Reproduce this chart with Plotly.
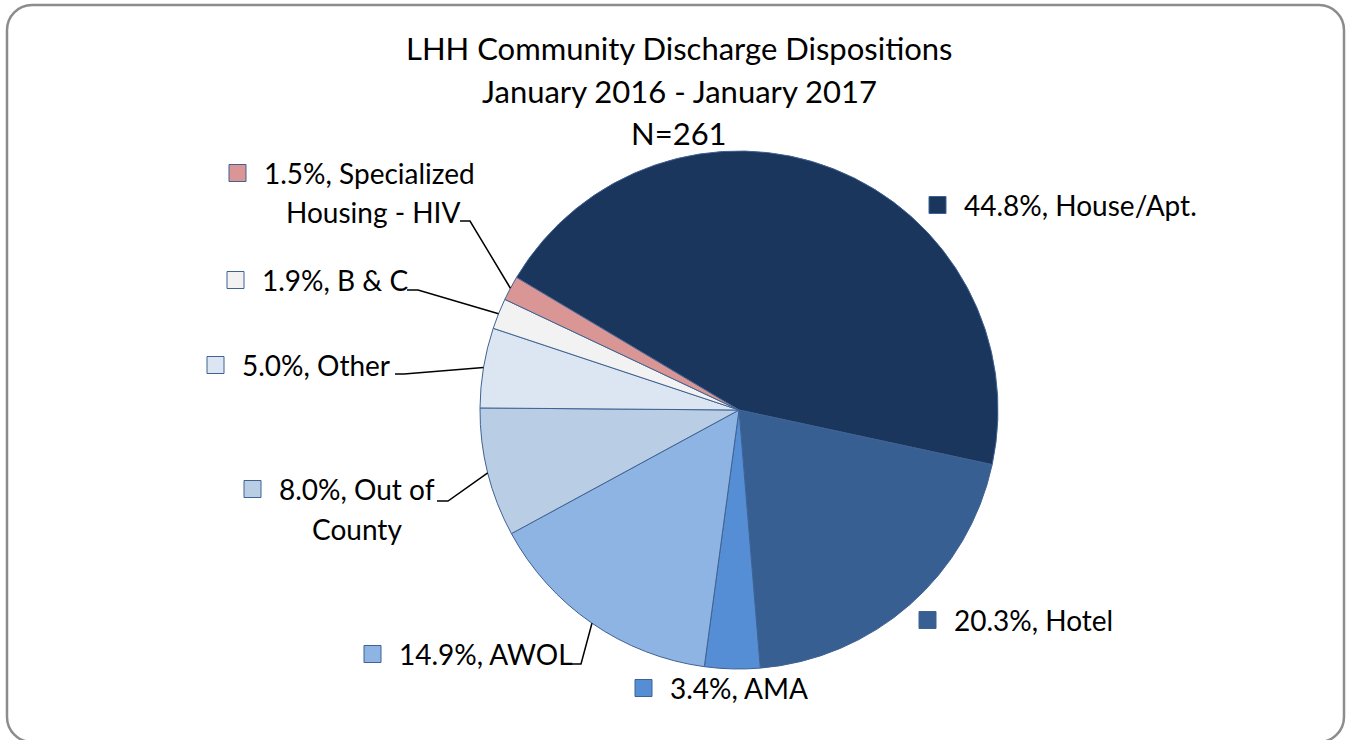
import math
import plotly.graph_objects as go

# ---------------- data ----------------
categories = ["House/Apt.", "Hotel", "AMA", "AWOL", "Out of County",
              "Other", "B & C", "Specialized Housing - HIV"]
counts = [117, 53, 9, 39, 21, 13, 5, 4]
slice_colors = ["#1b365d", "#375f92", "#558ed5", "#8eb4e3",
                "#b9cde5", "#dce6f2", "#f2f2f2", "#d99694"]
title_lines = ["LHH Community Discharge Dispositions",
               "January 2016 - January 2017",
               "N=261"]

# ---------------- layout / styling ----------------
W, H = 1351, 740
CX, CY, R = 739, 410, 259          # pie centre and radius (pixels)
ROTATION = -59.2                    # start angle of first slice (deg, clockwise from 12)
FONT = "Lato"
FS_TITLE = 31
FS = 28
EDGE = "#3f6293"

# label placement: text left x, centre y of first line, optional line break,
# centre x of second line, leader elbow/end points
label_pos = {
    "House/Apt.": dict(x=962, y=205),
    "Hotel": dict(x=952, y=620),
    "AMA": dict(x=668, y=688),
    "AWOL": dict(x=397, y=654, leader=[(581, 664), (570, 664)]),
    "Out of County": dict(x=277, y=489, brk="Out of", x2=357, y2=529,
                          leader=[(448, 501), (437, 501)]),
    "Other": dict(x=240, y=365, leader=[(404, 374), (395, 374)]),
    "B & C": dict(x=260, y=280, leader=[(418, 290), (407, 290)]),
    "Specialized Housing - HIV": dict(x=262, y=173, brk="Specialized", x2=373, y2=212,
                                      leader=[(470, 221), (460, 221)]),
}


def px(x):
    return x / W


def py(y):
    return 1 - y / H


fig = go.Figure()
fig.add_trace(go.Pie(
    values=counts, labels=categories, sort=False, direction="clockwise",
    rotation=ROTATION,
    marker=dict(colors=slice_colors, line=dict(color=EDGE, width=1)),
    textinfo="none", hoverinfo="label+percent", showlegend=False,
    domain=dict(x=[px(CX - R), px(CX + R)], y=[py(CY + R), py(CY - R)]),
))

shapes = []
annotations = []

# title
title_y = [48, 91, 133]
for t, y in zip(title_lines, title_y):
    annotations.append(dict(text=t, x=px(679), y=py(y), xref="paper", yref="paper",
                            xanchor="center", yanchor="middle", showarrow=False,
                            font=dict(family=FONT, size=FS_TITLE, color="black")))

total = sum(counts)
cum = 0
for cat, n, col in zip(categories, counts, slice_colors):
    frac = n / total
    mid = math.radians(ROTATION + 360 * (cum + frac / 2))
    cum += frac
    pct = f"{100 * frac:.1f}%, {cat}"
    lp = label_pos[cat]
    if "brk" in lp:
        head = f"{100 * frac:.1f}%, {lp['brk']}"
        tail = pct[len(head):].strip()
        lines = [(head, lp["x"], lp["y"], "left"), (tail, lp["x2"], lp["y2"], "center")]
    else:
        lines = [(pct, lp["x"], lp["y"], "left")]
    for txt, x, y, anc in lines:
        annotations.append(dict(text=txt, x=px(x), y=py(y), xref="paper", yref="paper",
                                xanchor=anc, yanchor="middle", showarrow=False,
                                font=dict(family=FONT, size=FS, color="black")))
    # legend-like square
    sx0 = lp["x"] - 33
    shapes.append(dict(type="rect", xref="paper", yref="paper",
                       x0=px(sx0), x1=px(sx0 + 17), y0=py(lp["y"] - 8.5), y1=py(lp["y"] + 8.5),
                       fillcolor=col, line=dict(color=EDGE, width=1)))
    # leader line from slice edge
    if "leader" in lp:
        ex = CX + R * math.sin(mid)
        ey = CY - R * math.cos(mid)
        (bx, by), (tx, ty) = lp["leader"]
        path = f"M {px(ex)},{py(ey)} L {px(bx)},{py(by)} L {px(tx)},{py(ty)}"
        shapes.append(dict(type="path", xref="paper", yref="paper", path=path,
                           line=dict(color="black", width=1.5)))

# rounded outer border (bottom edge lies just below the visible page)
x0, y0, x1, y1, rr = 7, 5, 1344, 742, 25
k = rr * (1 - 0.5523)


def P(x, y):
    return f"{px(x)},{py(y)}"


border = (f"M {P(x0 + rr, y0)} L {P(x1 - rr, y0)} "
          f"C {P(x1 - k, y0)} {P(x1, y0 + k)} {P(x1, y0 + rr)} "
          f"L {P(x1, y1 - rr)} C {P(x1, y1 - k)} {P(x1 - k, y1)} {P(x1 - rr, y1)} "
          f"L {P(x0 + rr, y1)} C {P(x0 + k, y1)} {P(x0, y1 - k)} {P(x0, y1 - rr)} "
          f"L {P(x0, y0 + rr)} C {P(x0, y0 + k)} {P(x0 + k, y0)} {P(x0 + rr, y0)} Z")
shapes.append(dict(type="path", xref="paper", yref="paper", path=border,
                   line=dict(color="#8c8c8c", width=2.5), layer="below"))

fig.update_layout(
    width=W, height=H, margin=dict(l=0, r=0, t=0, b=0),
    paper_bgcolor="white", plot_bgcolor="white",
    shapes=shapes, annotations=annotations, showlegend=False,
)

fig.write_html("out.html", config={"displayModeBar": False},
               post_script="document.body.style.margin='0';document.body.style.overflow='hidden';")
